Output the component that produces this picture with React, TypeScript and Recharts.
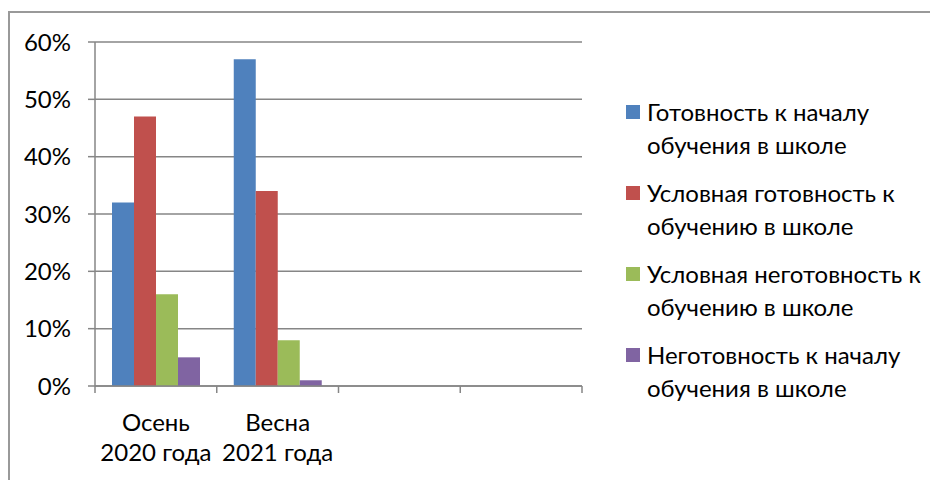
import { BarChart, Bar, XAxis, YAxis, CartesianGrid, Legend } from "recharts";

const categories = ["Осень\n2020 года", "Весна\n2021 года", "", " "];
const seriesNames = [
  "Готовность к началу\nобучения в школе",
  "Условная готовность к\nобучению в школе",
  "Условная неготовность к\nобучению в школе",
  "Неготовность к началу\nобучения в школе",
];
const seriesColors = ["#4F81BD", "#C0504D", "#9BBB59", "#8064A2"];
const ready = [32, 57, null, null];
const condReady = [47, 34, null, null];
const condNotReady = [16, 8, null, null];
const notReady = [5, 1, null, null];
const yTicks = [0, 10, 20, 30, 40, 50, 60];

const seriesValues = [ready, condReady, condNotReady, notReady];
const data = categories.map((c, i) => {
  const row: Record<string, string | number | null> = { cat: c };
  seriesValues.forEach((vals, s) => {
    row["s" + s] = vals[i];
  });
  return row;
});

const FONT = "Lato, 'Noto Sans', sans-serif";
const FS = 24;
const AXIS = "#868686";

function CatTick(props: any) {
  const { x, y, payload, index } = props;
  const half = payload.offset ?? 60.875;
  const lines = String(payload.value).trim() ? String(payload.value).split("\n") : [];
  return (
    <g>
      <line x1={x - half} x2={x - half} y1={y} y2={y + 7} stroke={AXIS} strokeWidth={1.5} />
      {index === categories.length - 1 && (
        <line x1={x + half} x2={x + half} y1={y} y2={y + 7} stroke={AXIS} strokeWidth={1.5} />
      )}
      <text textAnchor="middle" fontSize={FS} fill="#000" fontFamily={FONT}>
        {lines.map((l, i) => (
          <tspan key={i} x={x} y={y + 45 + i * 30}>
            {l}
          </tspan>
        ))}
      </text>
    </g>
  );
}

function LegendBox(props: any) {
  const items = [...(props.payload || [])].sort(
    (a: any, b: any) => seriesNames.indexOf(a.value) - seriesNames.indexOf(b.value)
  );
  return (
    <div style={{ fontFamily: FONT, fontSize: FS, color: "#000" }}>
      {items.map((p: any, i: number) => (
        <div key={i} style={{ display: "flex", alignItems: "flex-start", height: 81 }}>
          <div style={{ width: 14, height: 14, background: p.color, marginTop: 10, marginRight: 7, flex: "none" }} />
          <div style={{ lineHeight: "33px", whiteSpace: "pre" }}>{p.value}</div>
        </div>
      ))}
    </div>
  );
}

export default function App() {
  return (
    <div style={{ position: "relative", width: 930, height: 472 }}>
      <div
        style={{
          position: "absolute",
          left: 0,
          top: 3,
          width: 930,
          height: 469,
          borderTop: "2px solid #999",
          borderLeft: "2px solid #999",
          boxSizing: "border-box",
        }}
      />
      <div style={{ position: "absolute", left: 0, top: 0 }}>
        <BarChart
          width={930}
          height={472}
          data={data}
          margin={{ top: 34, right: 356, bottom: 34, left: 0 }}
          barSize={22}
          barGap={0}
        >
          <CartesianGrid vertical={false} stroke={AXIS} strokeWidth={1.5} />
          <XAxis
            dataKey="cat"
            height={60}
            axisLine={{ stroke: AXIS, strokeWidth: 1.5 }}
            tickLine={false}
            tickSize={0}
            tickMargin={0}
            interval={0}
            tick={<CatTick />}
          />
          <YAxis
            width={87}
            domain={[0, 60]}
            ticks={yTicks}
            tickFormatter={(v: number) => `${v}%`}
            axisLine={{ stroke: AXIS, strokeWidth: 1.5 }}
            tickLine={{ stroke: AXIS, strokeWidth: 1.5 }}
            tickSize={7}
            tickMargin={17}
            tick={{ fill: "#000", fontSize: FS, fontFamily: FONT }}
          />
          <Legend
            layout="horizontal"
            verticalAlign="middle"
            align="center"
            content={<LegendBox />}
            wrapperStyle={{ position: "absolute", left: 618, top: 87, width: 310 }}
          />
          {seriesNames.map((n, s) => (
            <Bar key={s} dataKey={"s" + s} name={n} fill={seriesColors[s]} isAnimationActive={false} />
          ))}
        </BarChart>
      </div>
    </div>
  );
}
